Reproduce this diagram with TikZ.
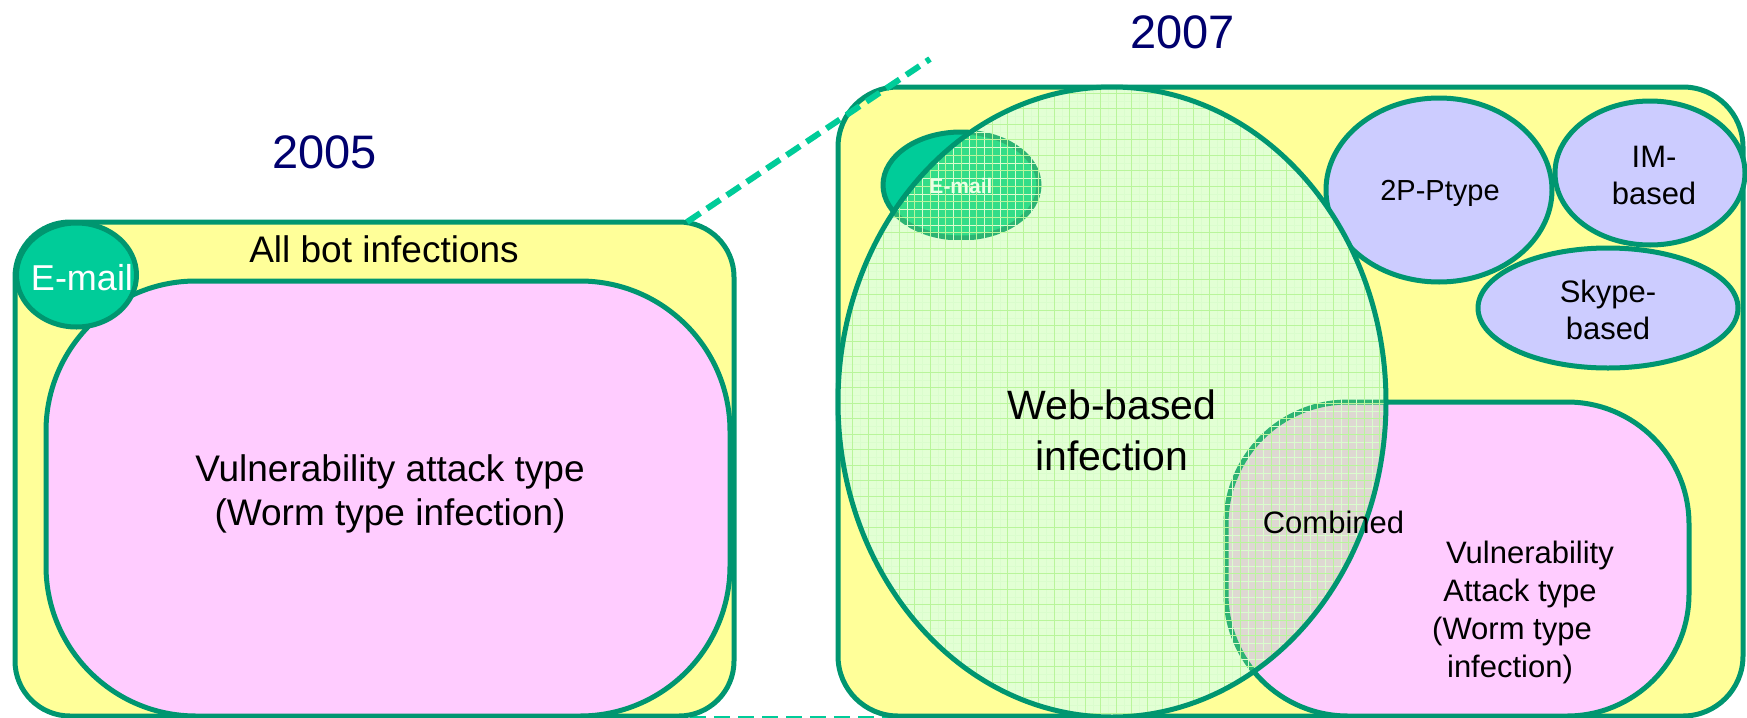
\documentclass[tikz,border=0pt]{standalone}
\usepackage{fontspec}
\setmainfont{Liberation Sans}

\definecolor{edgegreen}{RGB}{0,150,112}
\definecolor{dashgreen}{RGB}{0,204,153}
\definecolor{mailgreen}{RGB}{0,204,153}
\definecolor{boxyellow}{RGB}{255,255,153}
\definecolor{wormpink}{RGB}{255,204,255}
\definecolor{imblue}{RGB}{204,204,255}
\definecolor{webmint}{RGB}{226,255,212}
\definecolor{mailmint}{RGB}{51,221,136}
\definecolor{faintedge}{RGB}{45,180,115}
\definecolor{combgray}{RGB}{222,216,210}
\definecolor{gridmajor}{RGB}{185,245,155}
\definecolor{gridminor}{RGB}{218,253,205}
\definecolor{yearblue}{RGB}{0,0,110}
\definecolor{mailtext}{RGB}{235,255,228}

\tikzset{
  venn/.style={draw=edgegreen, line width=2.5pt},
  zoomline/.style={draw=dashgreen, line width=3pt, dash pattern=on 8pt off 4pt},
  yearlabel/.style={text=yearblue, font=\fontsize{23.5}{28}\selectfont, anchor=base, inner sep=0pt},
  biglabel/.style={font=\fontsize{18.5}{21.7}\selectfont, anchor=base, inner sep=0pt, align=center},
  smalllabel/.style={font=\fontsize{15.5}{18.5}\selectfont, anchor=base, inner sep=0pt, align=center},
}

\begin{document}
\begin{tikzpicture}[x=0.5pt,y=0.5pt,yscale=-1,xscale=1]
\useasboundingbox (0,0) rectangle (1747,718);
%Straight Lines [zoom, lower edge]
\coordinate (lowA) at (690,718.5);
\coordinate (lowB) at (900,718.5);
\draw[zoomline] (lowA) -- (lowB);
%Shape: Rounded Rect [2005, all bot infections]
\path[venn, fill=boxyellow, rounded corners=27.5pt] (15,222) rectangle (734,716);
%Shape: Rounded Rect [2005, worm type]
\path[venn, fill=wormpink, rounded corners=75pt] (46,281) rectangle (730,716);
%Shape: Ellipse [2005, e-mail]
\path[venn, fill=mailgreen] (76.5,275) ellipse [x radius=30pt, y radius=26pt];
%Shape: Rounded Rect [2007]
\path[venn, fill=boxyellow, rounded corners=30pt] (838,87) rectangle (1743,716);
%Shape: Ellipse [2P-Ptype]
\path[venn, fill=imblue] (1439,190) ellipse [x radius=56.5pt, y radius=46pt];
%Shape: Ellipse [IM]
\path[venn, fill=imblue] (1650,173) ellipse [x radius=47.5pt, y radius=36pt];
%Shape: Ellipse [Skype]
\path[venn, fill=imblue] (1608,308) ellipse [x radius=65pt, y radius=30pt];
%Shape: Ellipse [2007, e-mail]
\path[venn, fill=mailgreen] (961,185) ellipse [x radius=39pt, y radius=26.5pt];
%Shape: Rounded Rect [2007, worm type]
\path[venn, fill=wormpink, rounded corners=61pt] (1226,402) rectangle (1689,716);
%Shape: Ellipse [web-based, laid over the rest]
\fill[webmint] (1112,402) ellipse [x radius=137pt, y radius=157.5pt];
\begin{scope}
\clip (1112,402) ellipse [x radius=137pt, y radius=157.5pt];
\path[draw=faintedge, line width=2.5pt, fill=mailmint] (961,185) ellipse [x radius=39pt, y radius=26.5pt];
\path[draw=faintedge, line width=2.5pt, fill=combgray, rounded corners=61pt] (1226,402) rectangle (1689,716);
\draw[gridminor, line width=0.2pt, step=3.875pt] (830,80) grid (1400,730);
\draw[gridmajor, line width=0.4pt, step=7.75pt] (830,80) grid (1400,730);
% Text Node
\node[text=mailtext, font=\bfseries\fontsize{10.5}{12}\selectfont, anchor=base, inner sep=0pt] (mailR) at (961,193) {E-mail};
\end{scope}
\path[venn] (1112,402) ellipse [x radius=137pt, y radius=157.5pt];
%Straight Lines [zoom, upper edge]
\coordinate (highA) at (687,222);
\coordinate (highB) at (930,59);
\draw[zoomline] (highA) -- (highB);
% Text Node
\node[yearlabel] (yearA) at (324.5,168) {2005};
% Text Node
\node[yearlabel] (yearB) at (1182.5,48) {2007};
% Text Node
\node[biglabel] (allbot) at (384,262) {All bot infections};
% Text Node
\node[text=white, font=\fontsize{18}{21}\selectfont, anchor=base, inner sep=0pt] (mailL) at (82,290) {E-mail};
% Text Node
\node[biglabel] (wormL) at (390,525) {Vulnerability attack type\\(Worm type infection)};
% Text Node
\node[font=\fontsize{20.5}{25.5}\selectfont, anchor=base, inner sep=0pt, align=center] (web) at (1112,470) {Web-based\\infection};
% Text Node
\node[font=\fontsize{14.5}{17}\selectfont, anchor=base, inner sep=0pt] (ptwo) at (1440,200) {2P-Ptype};
% Text Node
\node[smalllabel] (imb) at (1654,204) {IM-\\based};
% Text Node
\node[smalllabel] (skype) at (1608,339) {Skype-\\based};
% Text Node
\node[smalllabel] (combined) at (1333.5,533) {Combined};
% Text Node
\node[smalllabel, font=\fontsize{15.5}{19}\selectfont] (wormR) at (1510,677) {\hspace*{20pt}Vulnerability\\\hspace*{10pt}Attack type\\\hspace*{2pt}(Worm type\\infection)};
\end{tikzpicture}
\end{document}
